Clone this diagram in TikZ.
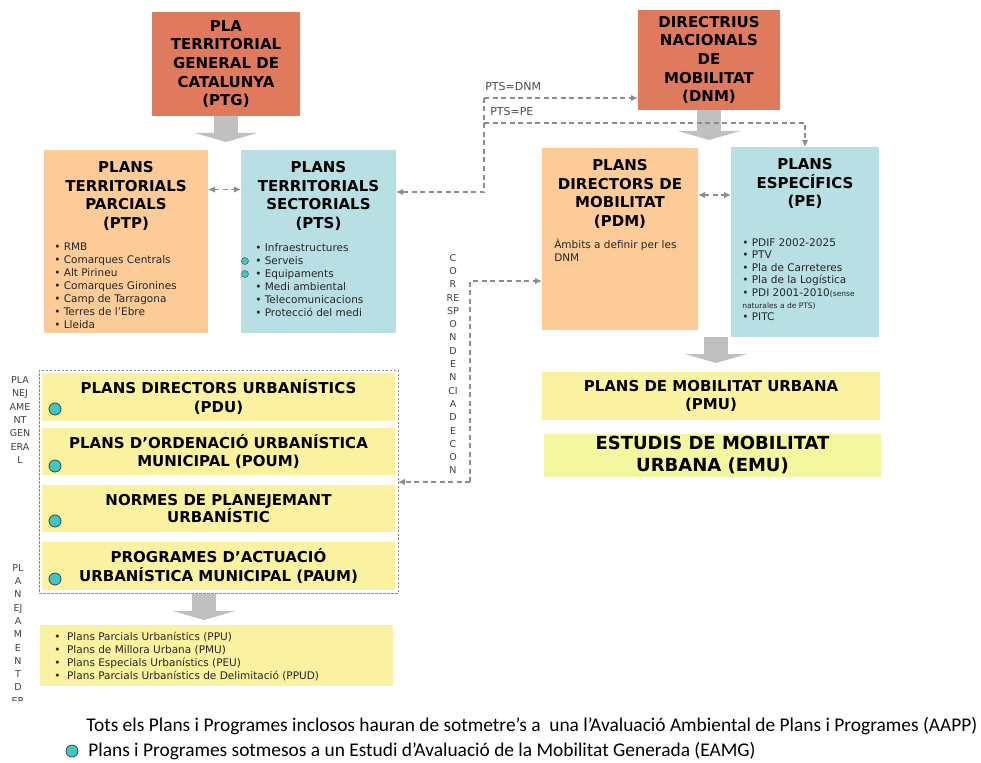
\documentclass[tikz,border=0pt]{standalone}
\usepackage{fontspec}
\setmainfont{DejaVu Sans}
\newfontfamily\footfont{Carlito}
\usepackage{tikz}
\usetikzlibrary{arrows,arrows.meta,positioning}

\definecolor{salmon}{RGB}{224,122,94}
\definecolor{peach}{RGB}{253,203,152}
\definecolor{aqua}{RGB}{184,223,227}
\definecolor{lemon}{RGB}{250,242,160}
\definecolor{lime}{RGB}{244,247,160}
\definecolor{tealdot}{RGB}{62,200,196}
\definecolor{dashgray}{RGB}{140,140,140}
\definecolor{fatgray}{RGB}{192,192,192}

\begin{document}
\begin{tikzpicture}[x=1pt,y=-1pt,>={Latex[length=7pt,width=6.5pt]},semithick]

    \tikzstyle{box}=[inner sep=0pt,outer sep=0pt,align=center,text=black]
    \tikzstyle{title}=[inner sep=0pt,align=center,font=\fontsize{15}{18.6}\selectfont\bfseries]
    \tikzstyle{items}=[inner sep=0pt,align=left,anchor=north west,text=black!85,font=\fontsize{10.5}{13}\selectfont]
    \tikzstyle{dashline}=[draw=dashgray,line width=1.3pt,dash pattern=on 5pt off 3.5pt]
    \tikzstyle{fat}=[draw=fatgray,line width=24pt,-{Triangle[width=62pt,length=9pt]}]
    \tikzstyle{eamg}=[circle,draw=black!75,fill=tealdot,inner sep=0pt,minimum size=12pt,thick]
    \tikzstyle{vtext}=[inner sep=0pt,align=center,text=black!75,font=\fontsize{9.5}{13.3}\selectfont]

    \fill[white] (0,0) rectangle (981,762);
    \useasboundingbox (0,0) rectangle (981,762);

    % top level
    \node[box,fill=salmon,minimum width=148,minimum height=104,font=\fontsize{15}{18.7}\selectfont\bfseries] (ptg) at (226,64)
        {PLA\\TERRITORIAL\\GENERAL DE\\CATALUNYA\\(PTG)};
    \node[box,fill=salmon,minimum width=142,minimum height=100,font=\fontsize{15}{18.7}\selectfont\bfseries] (dnm) at (709,60)
        {DIRECTRIUS\\NACIONALS\\DE\\MOBILITAT\\(DNM)};

    \coordinate (ptgtip) at (226,142);
    \coordinate (dnmtip) at (709,140);
    \draw[fat] (ptg.south) -- (ptgtip);
    \draw[fat] (dnm.south) -- (dnmtip);

    % second level
    \node[box,fill=peach,minimum width=164,minimum height=183] (ptp) at (126,241.5) {};
    \node[box,fill=aqua,minimum width=155,minimum height=183] (pts) at (318.5,241.5) {};
    \node[box,fill=peach,minimum width=156,minimum height=182] (pdm) at (620,239) {};
    \node[box,fill=aqua,minimum width=148,minimum height=190] (pe) at (805,242) {};

    \node[title,below=11pt of ptp.north] (ptpt) {PLANS\\TERRITORIALS\\PARCIALS\\(PTP)};
    \node[title,below=11pt of pts.north] (ptst) {PLANS\\TERRITORIALS\\SECTORIALS\\(PTS)};
    \node[title,below=11pt of pdm.north] (pdmt) {PLANS\\DIRECTORS DE\\MOBILITAT\\(PDM)};
    \node[title,below=11pt of pe.north] (pet) {PLANS\\ESPECÍFICS\\(PE)};

    \node[items] (ptpl) at (54,243) {\textbullet\ RMB\\\textbullet\ Comarques Centrals\\\textbullet\ Alt Pirineu\\
        \textbullet\ Comarques Gironines\\\textbullet\ Camp de Tarragona\\\textbullet\ Terres de l’Ebre\\\textbullet\ Lleida};
    \node[items] (ptsl) at (255,243) {\textbullet\ Infraestructures\\\textbullet\ Serveis\\\textbullet\ Equipaments\\
        \textbullet\ Medi ambiental\\\textbullet\ Telecomunicacions\\\textbullet\ Protecció del medi};
    \node[eamg,minimum size=7pt,thin] (d1) at (245,261) {};
    \node[eamg,minimum size=7pt,thin] (d2) at (245,274) {};
    \node[items,font=\fontsize{10.5}{13}\selectfont] (pdml) at (554,238) {Àmbits a definir per les\\DNM};
    \node[items,font=\fontsize{10.5}{12.4}\selectfont] (pel) at (742,238.5) {\textbullet\ PDIF 2002-2025\\\textbullet\ PTV\\
        \textbullet\ Pla de Carreteres\\\textbullet\ Pla de la Logística\\
        \textbullet\ PDI 2001-2010{\fontsize{7.5}{9}\selectfont(sense}\\{\fontsize{7.5}{9}\selectfont naturales a de PTS)}\\
        \textbullet\ PITC};

    % dashed links
    \coordinate (j1) at (484,98);
    \coordinate (j2) at (484,123);
    \coordinate (j3) at (484,192);
    \node[anchor=west,inner sep=0pt,text=black!70,font=\fontsize{11}{12}\selectfont] (lbl1) at (485,86) {PTS=DNM};
    \node[anchor=west,inner sep=0pt,text=black!70,font=\fontsize{11}{12}\selectfont] (lbl2) at (490,111) {PTS=PE};
    \draw[dashline,->] (j1) -- (dnm.west |- j1);
    \draw[dashline,->] (j2) -| (pe.north);
    \draw[dashline,->] (j1) |- (pts.east |- j3);

    \coordinate (ptpr) at ([yshift=52pt]ptp.east);
    \coordinate (pdmr) at ([yshift=44pt]pdm.east);
    \draw[dashline,<->] (ptpr) -- (ptpr -| pts.west);
    \draw[dashline,<->] (pdmr) -- (pdmr -| pe.west);

    % planejament general
    \node[box,draw=dashgray,line width=0.9pt,dash pattern=on 2.5pt off 1.5pt,minimum width=359,minimum height=223] (plang) at (218.5,481.5) {};
    \node[box,fill=lemon,minimum width=353,minimum height=48,font=\fontsize{15}{18.6}\selectfont\bfseries] (pdu) at (218.5,397)
        {PLANS DIRECTORS URBANÍSTICS\\(PDU)};
    \node[box,fill=lemon,minimum width=353,minimum height=47,font=\fontsize{15}{18.6}\selectfont\bfseries] (poum) at (218.5,451.5)
        {PLANS D’ORDENACIÓ URBANÍSTICA\\MUNICIPAL (POUM)};
    \node[box,fill=lemon,minimum width=353,minimum height=47,font=\fontsize{15}{17}\selectfont\bfseries] (npu) at (218.5,508.5)
        {NORMES DE PLANEJEMANT\\URBANÍSTIC};
    \node[box,fill=lemon,minimum width=353,minimum height=48,font=\fontsize{15}{18.6}\selectfont\bfseries] (paum) at (218.5,566)
        {PROGRAMES D’ACTUACIÓ\\URBANÍSTICA MUNICIPAL (PAUM)};
    \node[eamg] (e1) at (55,409) {};
    \node[eamg] (e2) at (55,466) {};
    \node[eamg] (e3) at (55,521) {};
    \node[eamg] (e4) at (55,579) {};

    \coordinate (pgtop) at (204,594);
    \coordinate (pgtip) at (204,620);
    \draw[fat] (pgtop) -- (pgtip);

    \node[box,fill=lemon,minimum width=353,minimum height=61] (pder) at (216.5,655.5) {};
    \node[items,font=\fontsize{10.5}{13}\selectfont] (pderl) at (54,631.5) {\textbullet\ \ Plans Parcials Urbanístics (PPU)\\
        \textbullet\ \ Plans de Millora Urbana (PMU)\\\textbullet\ \ Plans Especials Urbanístics (PEU)\\
        \textbullet\ \ Plans Parcials Urbanístics de Delimitació (PPUD)};

    \node[vtext] (vgen) at (20,420) {PLA\\NEJ\\AME\\NT\\GEN\\ERA\\L};
    \begin{scope}
      \clip (0,550) rectangle (60,700);
      \node[vtext,anchor=north] (vder) at (18,564) {PL\\A\\N\\EJ\\A\\M\\E\\N\\T\\D\\ER};
    \end{scope}

    % correspondencia
    \node[vtext] (vcor) at (453,364) {C\\O\\R\\RE\\SP\\O\\N\\D\\E\\N\\CI\\A\\D\\E\\C\\O\\N};
    \coordinate (c1) at (470,281);
    \coordinate (c2) at (470,482);
    \draw[dashline,->] (c2) -- (c1) -- (pdm.west |- c1);
    \draw[dashline,->] (c2) -- (plang.east |- c2);

    % mobilitat urbana
    \coordinate (pmtop) at (716,337);
    \coordinate (pmtip) at (716,363);
    \draw[fat] (pmtop) -- (pmtip);
    \node[box,fill=lemon,minimum width=338,minimum height=48,font=\fontsize{15}{18.6}\selectfont\bfseries] (pmu) at (711,396)
        {PLANS DE MOBILITAT URBANA\\(PMU)};
    \node[box,fill=lime,minimum width=337,minimum height=43,font=\fontsize{18}{22}\selectfont\bfseries] (emu) at (712.5,455.5)
        {ESTUDIS DE MOBILITAT\\URBANA (EMU)};

    % legend
    \node[anchor=west,inner sep=0pt,font=\footfont\fontsize{19.4}{22}\selectfont] (aapp) at (86,726)
        {Tots els Plans i Programes inclosos hauran de sotmetre’s a\ \ una l’Avaluació Ambiental de Plans i Programes (AAPP)};
    \node[eamg] (leg) at (72,751) {};
    \node[anchor=west,inner sep=0pt,font=\footfont\fontsize{19.4}{22}\selectfont] (legt) at (88,751)
        {Plans i Programes sotmesos a un Estudi d’Avaluació de la Mobilitat Generada (EAMG)};

\end{tikzpicture}
\end{document}
